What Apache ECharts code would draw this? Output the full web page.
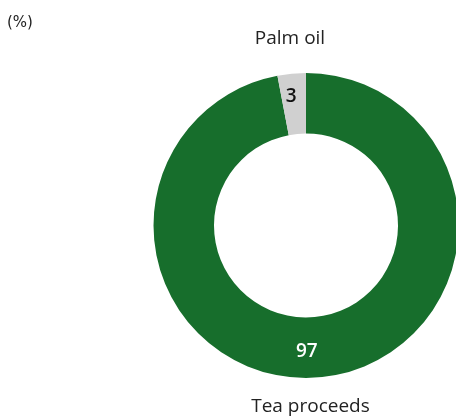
<!DOCTYPE html>
<html>
<head>
<meta charset="utf-8">
<script src="https://cdn.jsdelivr.net/npm/echarts@6/dist/echarts.min.js"></script>
<style>
  html, body { margin: 0; padding: 0; background: #fff; }
  #chart { width: 456px; height: 419px; }
</style>
</head>
<body>
<div id="chart"></div>
<script>
// Revenue share by source, in percent
const categories = ['Tea proceeds', 'Palm oil'];
const values = [97, 3];
const sliceColors = ['#176e2c', '#d0d0d0'];
const unitLabel = '(%)';

const FONT = '"Open Sans", "Noto Sans", sans-serif';
const chart = echarts.init(document.getElementById('chart'));

const labelStyles = [
  { color: '#ffffff', offset: [-11, 1] },
  { color: '#111111', offset: [-3, -4] }
];

chart.setOption({
  animation: false,
  graphic: [
    { type: 'text', x: 7, y: 23,
      style: { text: unitLabel, font: '15px "DejaVu Sans", sans-serif', fill: '#222',
               textAlign: 'left', textVerticalAlign: 'middle' } },
    { type: 'text', x: 290, y: 39,
      style: { text: categories[1], font: '19px ' + FONT, fill: '#222',
               textAlign: 'center', textVerticalAlign: 'middle' } },
    { type: 'text', x: 310.5, y: 407,
      style: { text: categories[0], font: '19px ' + FONT, fill: '#222',
               textAlign: 'center', textVerticalAlign: 'middle' } }
  ],
  series: [{
    type: 'pie',
    center: [306, 225.5],
    radius: [92, 152.5],
    startAngle: 90,
    clockwise: true,
    silent: true,
    label: {
      show: true,
      position: 'inside',
      formatter: '{c}',
      fontFamily: FONT,
      fontSize: 19,
      fontWeight: 600
    },
    labelLine: { show: false },
    data: categories.map((name, i) => ({
      name,
      value: values[i],
      itemStyle: { color: sliceColors[i] },
      label: labelStyles[i]
    }))
  }]
});
</script>
</body>
</html>
